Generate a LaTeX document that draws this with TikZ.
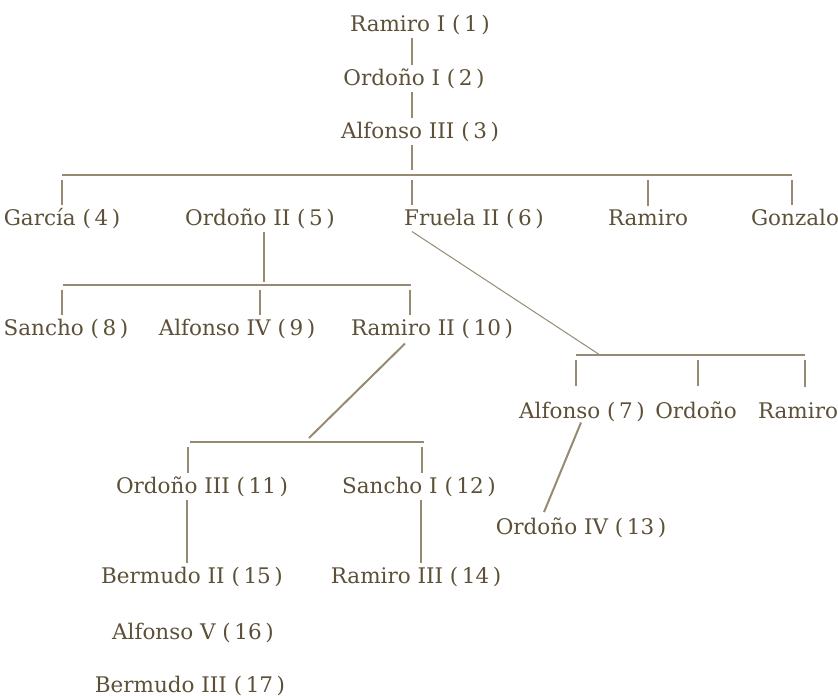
\documentclass[tikz,border=0pt]{standalone}
\usepackage{fontspec}
\setmainfont{DejaVu Serif}
\usepackage{xcolor}
\definecolor{kingtext}{RGB}{92,80,56}
\definecolor{kingline}{RGB}{150,138,114}
\usetikzlibrary{calc}
\tikzset{
  king/.style={text=kingtext, font=\fontsize{21.5}{26}\selectfont, anchor=base, inner sep=3pt},
  tie/.style={draw=kingline, line width=1.3pt},
  slant/.style={draw=kingline, line width=2pt},
}

\begin{document}
\begin{tikzpicture}[x=1pt, y=-1pt]
  \useasboundingbox (0,0) rectangle (838,696);

  % the line from Ramiro I
  \node [king] (n1) at (420,31) {Ramiro I (\,1\,)};
  \node [king] (n2) at (414,85) {Ordoño I (\,2\,)};
  \node [king] (n3) at (420,138) {Alfonso III (\,3\,)};
  \coordinate (j3) at (412,175);
  \draw [tie] (j3 |- n1.south) -- (j3 |- n2.north);
  \draw [tie] (j3 |- n2.south) -- (j3 |- n3.north);
  \draw [tie] (j3 |- n3.south) -- ($(j3)+(0,-5)$);

  % children of Alfonso III
  \node [king] (n4) at (62,225) {García (\,4\,)};
  \node [king] (n5) at (260,225) {Ordoño II (\,5\,)};
  \node [king] (n6) at (474,225) {Fruela II (\,6\,)};
  \node [king] (r3) at (648,225) {Ramiro};
  \node [king] (g3) at (795,225) {Gonzalo};
  \draw [tie] (62,175) -- (792,175);
  \foreach \d/\n in {62/n4, 412/n6, 648/r3, 792/g3} {
    \coordinate (d\n) at (\d,180);
    \draw [tie] (d\n) -- (d\n |- \n.north);
  }

  % children of Ordoño II
  \node [king] (n8) at (66,335) {Sancho (\,8\,)};
  \node [king] (n9) at (237,335) {Alfonso IV (\,9\,)};
  \node [king] (n10) at (432,335) {Ramiro II (\,10\,)};
  \coordinate (j5) at (264,285);
  \draw [tie] (j5 |- n5.south) -- ($(j5)+(0,-3)$);
  \draw [tie] (63,285) -- (411,285);
  \foreach \d/\n in {62/n8, 260/n9, 410/n10} {
    \coordinate (d\n) at (\d,290);
    \draw [tie] (d\n) -- (d\n |- \n.north);
  }

  % children of Ramiro II
  \node [king] (n11) at (202,493) {Ordoño III (\,11\,)};
  \node [king] (n12) at (419,493) {Sancho I (\,12\,)};
  \coordinate (j10) at (309,438);
  \draw [slant] ($(n10.south)+(-27,2)$) -- (j10);
  \draw [tie] (190,442) -- (424,442);
  \foreach \d/\n in {188/n11, 422/n12} {
    \coordinate (d\n) at (\d,447);
    \draw [tie] (d\n) -- (d\n |- \n.north);
  }

  % the next generations
  \node [king] (n15) at (192,583) {Bermudo II (\,15\,)};
  \node [king] (n14) at (416,583) {Ramiro III (\,14\,)};
  \node [king] (n16) at (193,639) {Alfonso V (\,16\,)};
  \node [king] (n17) at (190,692) {Bermudo III (\,17\,)};
  \coordinate (j11) at (187,0);
  \coordinate (j12) at (421,0);
  \draw [tie] (j11 |- n11.south) -- (j11 |- n15.north);
  \draw [tie] (j12 |- n12.south) -- (j12 |- n14.north);

  % children of Fruela II
  \node [king] (n7) at (582,418) {Alfonso (\,7\,)};
  \node [king] (o7) at (696,418) {Ordoño};
  \node [king] (r7) at (798,418) {Ramiro};
  \coordinate (j6) at (600,355);
  \draw [kingline, line width=1pt] (dn6 |- n6.south) -- (j6);
  \draw [tie] (576,355) -- (805,355);
  \foreach \d/\n in {576/n7, 698/o7, 805/r7} {
    \coordinate (d\n) at (\d,360);
    \draw [tie, shorten >=12pt] (d\n) -- (d\n |- \n.north);
  }

  % son of Alfonso
  \node [king] (n13) at (581,534) {Ordoño IV (\,13\,)};
  \draw [slant] ($(n7.south)+(-1,-2)$) -- ($(n13.north)+(-37,-2)$);

\end{tikzpicture}
\end{document}
